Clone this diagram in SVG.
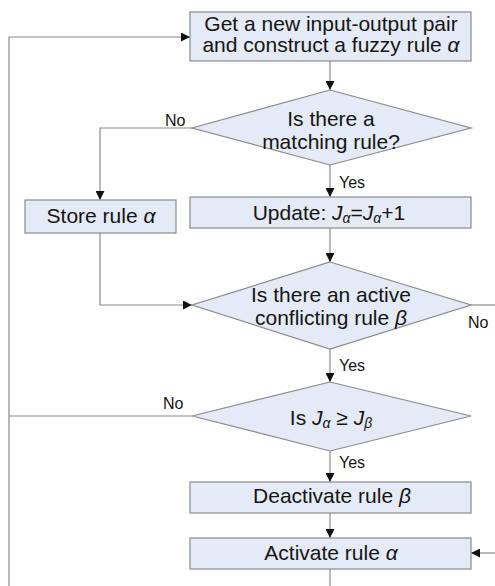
<svg xmlns="http://www.w3.org/2000/svg" width="495" height="586" viewBox="0 0 495 586">
<style>
.node{fill:#e4eaf6;stroke:#8a8a8a;stroke-width:1.2}
.t{font-family:"Liberation Sans",Arial,sans-serif;font-size:21px;fill:#151515;text-anchor:middle}
.l{font-family:"Liberation Sans",Arial,sans-serif;font-size:16px;fill:#151515}
.c{fill:none;stroke:#8a8a8a;stroke-width:1.2}
.i{font-style:italic}
</style>
<defs>
<marker id="ah" markerUnits="userSpaceOnUse" markerWidth="9" markerHeight="9" refX="9" refY="4.5" orient="auto">
<path d="M0,0 L9,4.5 L0,9 z" fill="#111"/>
</marker>
</defs>
<rect width="495" height="586" fill="#ffffff"/>
<g id="connectors">
<path class="c" d="M330,61 V90" marker-end="url(#ah)"/>
<path class="c" d="M192,128 H100 V200" marker-end="url(#ah)"/>
<path class="c" d="M330,165 V197" marker-end="url(#ah)"/>
<path class="c" d="M330,228 V262" marker-end="url(#ah)"/>
<path class="c" d="M100,233 V305 H192" marker-end="url(#ah)"/>
<path class="c" d="M471,305 H495"/>
<path class="c" d="M330,349 V382" marker-end="url(#ah)"/>
<path class="c" d="M192,416 H9"/>
<path class="c" d="M330,451 V482" marker-end="url(#ah)"/>
<path class="c" d="M330,513 V538" marker-end="url(#ah)"/>
<path class="c" d="M495,553 H471" marker-end="url(#ah)"/>
<path class="c" d="M330,569 V586"/>
<path class="c" d="M9,586 V37 H190" marker-end="url(#ah)"/>
<text class="l" x="165" y="126">No</text>
<text class="l" x="339" y="188">Yes</text>
<text class="l" x="468" y="328">No</text>
<text class="l" x="339" y="371">Yes</text>
<text class="l" x="163" y="409">No</text>
<text class="l" x="339" y="468">Yes</text>
</g>
<g id="get-pair">
<rect class="node" x="190" y="12" width="281" height="49"/>
<text class="t" x="331" y="31">Get a new input-output pair</text>
<text class="t" x="331" y="52">and construct a fuzzy rule <tspan class="i">α</tspan></text>
</g>
<g id="matching">
<path class="node" d="M330,90 L471,128 L330,165 L192,128 Z"/>
<text class="t" x="331" y="126">Is there a</text>
<text class="t" x="331" y="149">matching rule?</text>
</g>
<g id="store">
<rect class="node" x="25" y="200" width="151" height="33"/>
<text class="t" x="101" y="223">Store rule <tspan class="i">α</tspan></text>
</g>
<g id="update">
<rect class="node" x="190" y="197" width="281" height="31"/>
<text class="t" x="329" y="220">Update: <tspan class="i">J</tspan><tspan class="i" font-size="14" dy="3">α</tspan><tspan dy="-3">=</tspan><tspan class="i">J</tspan><tspan class="i" font-size="14" dy="3">α</tspan><tspan dy="-3">+1</tspan></text>
</g>
<g id="conflicting">
<path class="node" d="M330,262 L471,305 L330,349 L192,305 Z"/>
<text class="t" x="331" y="302">Is there an active</text>
<text class="t" x="331" y="325">conflicting rule <tspan class="i">β</tspan></text>
</g>
<g id="compare">
<path class="node" d="M330,382 L471,416 L330,451 L192,416 Z"/>
<text class="t" x="331" y="425">Is <tspan class="i">J</tspan><tspan class="i" font-size="14" dy="3">α</tspan><tspan dy="-3"> ≥ </tspan><tspan class="i">J</tspan><tspan class="i" font-size="14" dy="3">β</tspan></text>
</g>
<g id="deactivate">
<rect class="node" x="190" y="482" width="281" height="31"/>
<text class="t" x="332" y="503">Deactivate rule <tspan class="i">β</tspan></text>
</g>
<g id="activate">
<rect class="node" x="190" y="538" width="281" height="31"/>
<text class="t" x="331" y="560">Activate rule <tspan class="i">α</tspan></text>
</g>
</svg>
